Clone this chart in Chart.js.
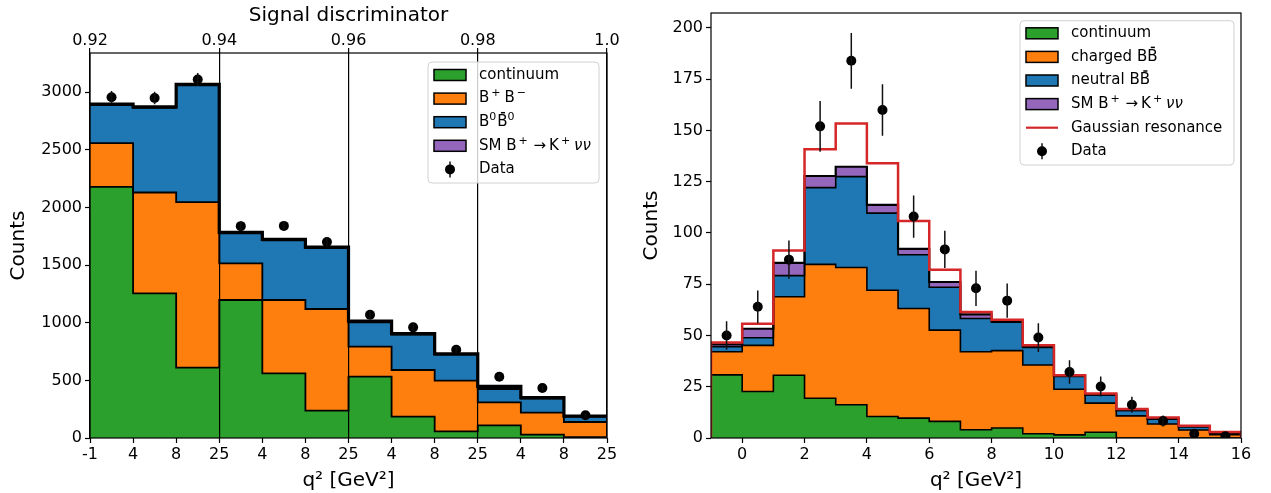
<!DOCTYPE html>
<html><head><meta charset="utf-8">
<script src="https://cdn.jsdelivr.net/npm/chart.js@4.4.0/dist/chart.umd.min.js"></script>
<style>
html,body{margin:0;padding:0;background:#fff;}
#wrap{position:relative;width:1271px;height:493px;overflow:hidden;background:#fff;}
canvas{position:absolute;top:0;}
</style></head><body>
<div id="wrap">
<canvas id="left" width="630" height="493" style="left:0px"></canvas>
<canvas id="right" width="641" height="493" style="left:630px"></canvas>
</div>
<script>
// ---------------- Left panel data ----------------
const leftEdges = [0,1,2,3,4,5,6,7,8,9,10,11,12];
const leftBinLabels = ['-1','4','8','25','4','8','25','4','8','25','4','8','25'];
const leftTopTicks = [0.92,0.94,0.96,0.98,1.0];
const leftTopTickLabels = ['0.92','0.94','0.96','0.98','1.0'];
const leftYTicks = [0,500,1000,1500,2000,2500,3000];
const leftContinuum = [2179,1255,610,1197,561,237,532,185,58,110,29,8];
const leftCharged   = [379,875,1436,318,636,882,260,405,439,199,191,131];
const leftNeutral   = [330,735,1013,260,518,529,211,307,227,116,122,46];
const leftSignal    = [8,8,8,8,8,8,12,8,6,23,8,5];
const leftData      = [2956,2950,3110,1838,1840,1700,1069,960,766,532,434,197];
const leftDataErr   = [54,54,56,43,43,41,33,31,28,23,21,14];

// ---------------- Right panel data ----------------
const rightEdges = [-1,0,1,2,3,4,5,6,7,8,9,10,11,12,13,14,15,16];
const rightXTicks = [0,2,4,6,8,10,12,14,16];
const rightYTicks = [0,25,50,75,100,125,150,175,200];
const rightContinuum = [30.8,22.7,30.6,19.4,16.2,10.5,9.7,8.1,4.0,4.9,2.1,1.5,2.8,0,0,0,0];
const rightCharged   = [11.3,22.5,38.3,65.3,67.0,61.6,53.5,44.5,38.1,37.7,33.5,22.3,14.2,10.8,6.8,3.9,1.6];
const rightNeutral   = [2.4,3.7,10.3,37.4,44.3,37.6,26.2,20.9,16.2,13.9,8.6,6.2,4.0,2.6,2.4,1.6,0.8];
const rightSignal    = [1.2,4.4,6.2,5.7,4.8,4.0,2.8,2.6,2.0,0.5,0.5,0.3,0.2,0.2,0.1,0.1,0.1];
const rightResonance = [0.9,2.4,6.0,13.1,21.1,20.3,13.7,6.0,1.2,0.7,0.5,0.3,0.5,0.5,0.7,0.4,0.4];
const rightData      = [50,64,87,152,184,160,108,92,73,67,49,32.2,25.1,16.2,8.3,2.1,0.8];
const rightDataErr   = [7,8,9.3,12.4,13.6,12.6,10.3,9.1,8.6,8.3,7,5.7,4.9,3.9,2.7,1.4,0.9];

// ---------------- Legend labels (text segments) ----------------
const smLabel = [{t:'SM B'},{t:'+',sup:true},{t:' →\u2009K'},{t:'+',sup:true},{t:'\u2009νν',it:true}];
const leftLegendLabels = [
  [{t:'continuum'}],
  [{t:'B'},{t:'+',sup:true},{t:'\u2009B'},{t:'−',sup:true}],
  [{t:'B'},{t:'0',sup:true,tight:true},{t:'B',bar:true},{t:'0',sup:true,tight:true}],
  smLabel,
  [{t:'Data'}]
];
const rightLegendLabels = [
  [{t:'continuum'}],
  [{t:'charged B'},{t:'B',bar:true}],
  [{t:'neutral B'},{t:'B',bar:true}],
  smLabel,
  [{t:'Gaussian resonance'}],
  [{t:'Data'}]
];

const C = {green:'#2ca02c', orange:'#ff7f0e', blue:'#1f77b4', purple:'#9467bd', red:'#d62728'};

Chart.defaults.font.family = '"DejaVu Sans", sans-serif';
Chart.defaults.font.size = 16;
Chart.defaults.color = '#000';

function cumulate(arrs){
  const out=[]; let acc=arrs[0].map(()=>0);
  for(const a of arrs){ acc=acc.map((v,i)=>v+a[i]); out.push(acc.slice()); }
  return out;
}
function stepPoints(edges, vals, closed){
  const pts=[];
  if(closed) pts.push({x:edges[0],y:0});
  vals.forEach((v,i)=>pts.push({x:edges[i],y:v}));
  pts.push({x:edges[edges.length-1],y:vals[vals.length-1]});
  if(closed) pts.push({x:edges[edges.length-1],y:0});
  return pts;
}
function centerPoints(edges, vals){
  return vals.map((v,i)=>({x:(edges[i]+edges[i+1])/2, y:v}));
}
function stackDS(label, pts, color, fill, bw){
  return {label, data:pts, stepped:true, fill, backgroundColor:color, borderColor:'#000',
    borderWidth:bw, pointRadius:0, pointHoverRadius:0, order:0};
}
function dataDS(pts, errs){
  return {label:'Data', data:pts, showLine:false, pointRadius:5, pointHoverRadius:5,
    pointBackgroundColor:'#000', pointBorderWidth:0, borderColor:'#000', errorBars:errs, order:-2};
}

const errorBarPlugin = {
  id:'errbars',
  afterDatasetsDraw(chart){
    const ctx=chart.ctx, a=chart.chartArea;
    chart.data.datasets.forEach((ds,di)=>{
      if(!ds.errorBars) return;
      const meta=chart.getDatasetMeta(di);
      const xs=chart.scales[meta.xAxisID], ys=chart.scales[meta.yAxisID];
      ctx.save();
      ctx.beginPath(); ctx.rect(a.left,a.top,a.right-a.left,a.bottom-a.top); ctx.clip();
      ctx.strokeStyle='#111'; ctx.lineWidth=1.5;
      ctx.beginPath();
      ds.data.forEach((p,i)=>{
        const e=ds.errorBars[i];
        const x=xs.getPixelForValue(p.x);
        ctx.moveTo(x, ys.getPixelForValue(p.y-e));
        ctx.lineTo(x, ys.getPixelForValue(p.y+e));
      });
      ctx.stroke();
      ctx.restore();
    });
  }
};

function roundRectPath(ctx,x,y,w,h,r){
  ctx.beginPath();
  ctx.moveTo(x+r,y); ctx.lineTo(x+w-r,y); ctx.quadraticCurveTo(x+w,y,x+w,y+r);
  ctx.lineTo(x+w,y+h-r); ctx.quadraticCurveTo(x+w,y+h,x+w-r,y+h);
  ctx.lineTo(x+r,y+h); ctx.quadraticCurveTo(x,y+h,x,y+h-r);
  ctx.lineTo(x,y+r); ctx.quadraticCurveTo(x,y,x+r,y); ctx.closePath();
}

const frameLegendPlugin = {
  id:'mplLegend',
  afterDraw(chart, args, o){
    const ctx=chart.ctx, a=chart.chartArea;
    ctx.save();
    ctx.strokeStyle='#000'; ctx.lineWidth=1.2;
    ctx.strokeRect(a.left,a.top,a.right-a.left,a.bottom-a.top);
    roundRectPath(ctx,o.x,o.y,o.w,o.h,4);
    ctx.fillStyle='rgba(255,255,255,0.8)'; ctx.fill();
    ctx.strokeStyle='#d0d0d0'; ctx.lineWidth=1; ctx.stroke();
    o.items.forEach((it,k)=>{
      const cy=o.row0+k*o.rowStep;
      if(it.kind==='patch'){
        ctx.fillStyle=it.color; ctx.fillRect(o.px,cy-5.5,32,11);
        ctx.strokeStyle='#000'; ctx.lineWidth=1.5; ctx.strokeRect(o.px,cy-5.5,32,11);
      } else if(it.kind==='line'){
        ctx.strokeStyle=it.color; ctx.lineWidth=2.2;
        ctx.beginPath(); ctx.moveTo(o.px,cy); ctx.lineTo(o.px+32,cy); ctx.stroke();
      } else if(it.kind==='data'){
        ctx.strokeStyle='#111'; ctx.lineWidth=1.5;
        ctx.beginPath(); ctx.moveTo(o.px+16,cy-8); ctx.lineTo(o.px+16,cy+8); ctx.stroke();
        ctx.fillStyle='#000'; ctx.beginPath(); ctx.arc(o.px+16,cy,5,0,Math.PI*2); ctx.fill();
      }
      let tx=o.tx;
      ctx.fillStyle='#000'; ctx.textBaseline='middle'; ctx.textAlign='left';
      it.label.forEach(seg=>{
        if(seg.sup){
          ctx.font='11px "DejaVu Sans", sans-serif';
          if(!seg.tight) tx+=2;
          ctx.fillText(seg.t,tx,cy-5);
          tx+=ctx.measureText(seg.t).width+1;
        } else {
          ctx.font=(seg.it?'italic ':'')+'15px "DejaVu Sans", sans-serif';
          ctx.fillText(seg.t,tx,cy);
          const w=ctx.measureText(seg.t).width;
          if(seg.bar){
            ctx.strokeStyle='#000'; ctx.lineWidth=1.5;
            ctx.beginPath(); ctx.moveTo(tx+w*0.35,cy-9.5); ctx.lineTo(tx+w*0.75,cy-9.5); ctx.stroke();
          }
          tx+=w;
        }
      });
    });
    ctx.restore();
  }
};

const tickGrid = {drawOnChartArea:false, drawTicks:true, tickLength:5, tickColor:'#000', tickWidth:1.2};

// ---------------- Left chart ----------------
const lc = cumulate([leftContinuum,leftCharged,leftNeutral,leftSignal]);
new Chart(document.getElementById('left'), {
  type:'line',
  data:{datasets:[
    stackDS('continuum', stepPoints(leftEdges,lc[0],false), C.green, 'origin', 1.8),
    stackDS('B+B-', stepPoints(leftEdges,lc[1],false), C.orange, '-1', 1.8),
    stackDS('B0B0', stepPoints(leftEdges,lc[2],false), C.blue, '-1', 1.8),
    stackDS('SM', stepPoints(leftEdges,lc[3],false), C.purple, '-1', 3.2),
    dataDS(centerPoints(leftEdges,leftData), leftDataErr)
  ]},
  options:{
    responsive:false, animation:false, events:[], devicePixelRatio:1,
    layout:{padding:{left:0,right:23,top:0,bottom:0}},
    scales:{
      x:{type:'linear', position:'bottom', min:0, max:12,
        afterBuildTicks:s=>{s.ticks=leftEdges.map(v=>({value:v}));},
        ticks:{callback:(v,i)=>leftBinLabels[i], maxRotation:0, autoSkip:false, padding:2},
        grid:tickGrid, border:{display:false},
        title:{display:true, text:'q² [GeV²]', font:{size:20}, padding:{top:3,bottom:0}},
        afterFit:s=>{s.height=55;}},
      x2:{type:'linear', position:'top', min:0.92, max:1.0,
        afterBuildTicks:s=>{s.ticks=leftTopTicks.map(v=>({value:v}));},
        ticks:{callback:(v,i)=>leftTopTickLabels[i], maxRotation:0, autoSkip:false, padding:-2},
        grid:{z:1, color:'#000', lineWidth:1.2, drawOnChartArea:true, drawTicks:true, tickLength:5, tickColor:'#000', tickWidth:1.2},
        border:{display:false},
        title:{display:true, text:'Signal discriminator', font:{size:20}, padding:{top:4,bottom:0}},
        afterFit:s=>{s.height=53;}},
      y:{type:'linear', min:0, max:3340,
        afterBuildTicks:s=>{s.ticks=leftYTicks.map(v=>({value:v}));},
        ticks:{callback:v=>String(v), padding:3},
        grid:tickGrid, border:{display:false},
        title:{display:true, text:'Counts', font:{size:20}, padding:{top:7,bottom:0}},
        afterFit:s=>{s.width=90;}}
    },
    plugins:{
      legend:{display:false}, tooltip:{enabled:false},
      filler:{drawTime:'beforeDatasetsDraw'},
      mplLegend:{x:428,y:62,w:171,h:121,row0:75,rowStep:23.6,px:434,tx:479,
        items:[
          {kind:'patch',color:C.green,label:leftLegendLabels[0]},
          {kind:'patch',color:C.orange,label:leftLegendLabels[1]},
          {kind:'patch',color:C.blue,label:leftLegendLabels[2]},
          {kind:'patch',color:C.purple,label:leftLegendLabels[3]},
          {kind:'data',label:leftLegendLabels[4]}
        ]}
    }
  },
  plugins:[errorBarPlugin, frameLegendPlugin]
});

// ---------------- Right chart ----------------
const rc = cumulate([rightContinuum,rightCharged,rightNeutral,rightSignal,rightResonance]);
new Chart(document.getElementById('right'), {
  type:'line',
  data:{datasets:[
    stackDS('continuum', stepPoints(rightEdges,rc[0],false), C.green, 'origin', 1.6),
    stackDS('charged', stepPoints(rightEdges,rc[1],false), C.orange, '-1', 1.6),
    stackDS('neutral', stepPoints(rightEdges,rc[2],false), C.blue, '-1', 1.6),
    stackDS('SM', stepPoints(rightEdges,rc[3],false), C.purple, '-1', 2.2),
    {label:'Gaussian resonance', data:stepPoints(rightEdges,rc[4],true), stepped:true, fill:false,
      borderColor:C.red, borderWidth:2.5, pointRadius:0, pointHoverRadius:0, order:-1},
    dataDS(centerPoints(rightEdges,rightData), rightDataErr)
  ]},
  options:{
    responsive:false, animation:false, events:[], devicePixelRatio:1,
    layout:{padding:{left:0,right:30,top:13,bottom:0}},
    scales:{
      x:{type:'linear', position:'bottom', min:-1, max:16,
        afterBuildTicks:s=>{s.ticks=rightXTicks.map(v=>({value:v}));},
        ticks:{callback:v=>String(v), maxRotation:0, autoSkip:false, padding:2},
        grid:tickGrid, border:{display:false},
        title:{display:true, text:'q² [GeV²]', font:{size:20}, padding:{top:3,bottom:0}},
        afterFit:s=>{s.height=55;}},
      y:{type:'linear', min:0, max:207.3,
        afterBuildTicks:s=>{s.ticks=rightYTicks.map(v=>({value:v}));},
        ticks:{callback:v=>String(v), padding:3},
        grid:tickGrid, border:{display:false},
        title:{display:true, text:'Counts', font:{size:20}, padding:{top:10,bottom:0}},
        afterFit:s=>{s.width=81;}}
    },
    plugins:{
      legend:{display:false}, tooltip:{enabled:false},
      filler:{drawTime:'beforeDatasetsDraw'},
      mplLegend:{x:390,y:20.7,w:214,h:144.3,row0:33.3,rowStep:23.6,px:396,tx:441,
        items:[
          {kind:'patch',color:C.green,label:rightLegendLabels[0]},
          {kind:'patch',color:C.orange,label:rightLegendLabels[1]},
          {kind:'patch',color:C.blue,label:rightLegendLabels[2]},
          {kind:'patch',color:C.purple,label:rightLegendLabels[3]},
          {kind:'line',color:C.red,label:rightLegendLabels[4]},
          {kind:'data',label:rightLegendLabels[5]}
        ]}
    }
  },
  plugins:[errorBarPlugin, frameLegendPlugin]
});
</script>
</body></html>
